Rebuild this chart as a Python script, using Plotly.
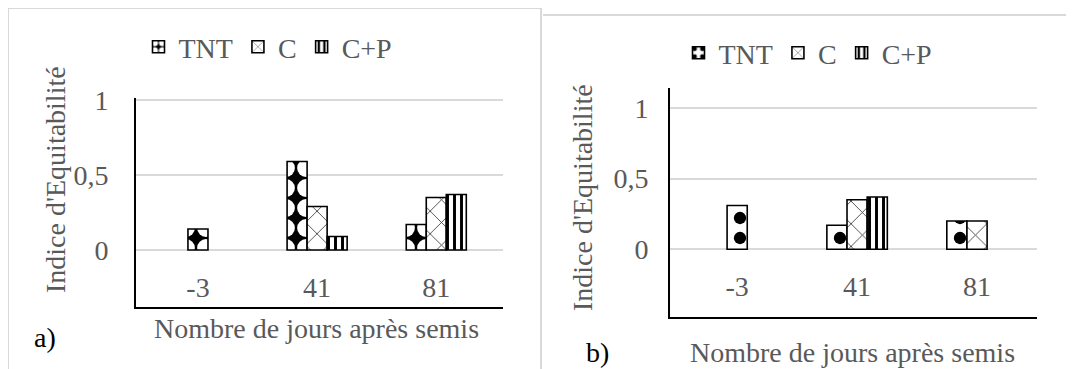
import plotly.graph_objects as go

# ---------------- data ----------------
categories = ["-3", "41", "81"]
series_names = ["TNT", "C", "C+P"]

a_TNT = [0.14, 0.59, 0.17]
a_C = [None, 0.29, 0.35]
a_CP = [None, 0.09, 0.37]

b_TNT = [0.31, 0.17, 0.20]
b_C = [None, 0.35, 0.20]
b_CP = [None, 0.37, 0.0]

y_ticks = [0, 0.5, 1]

# ---------------- style ----------------
PAGE_OFF = 8            # browser body margin
W, H = 1074 - PAGE_OFF, 369 - PAGE_OFF
FONT = "Liberation Serif"
GREY = "#595959"
GRID = "#d9d9d9"
BAR_W = 0.168
FS = 28

patterns_a = {
    "TNT": dict(shape=".", fgcolor="white", bgcolor="black", size=20, solidity=0.62, fillmode="replace"),
    "C": dict(shape="x", fgcolor="#333333", bgcolor="white", size=16, solidity=0.1, fillmode="replace"),
    "C+P": dict(shape="|", fgcolor="black", bgcolor="white", size=7, solidity=0.42, fillmode="replace"),
}
patterns_b = dict(patterns_a)
patterns_b["TNT"] = dict(shape=".", fgcolor="black", bgcolor="white", size=20, solidity=0.3, fillmode="replace")


def offsets_for(series_list):
    """Centre the bars that are present (non-null) in each category."""
    offs = [[0.0] * len(categories) for _ in series_list]
    for ci in range(len(categories)):
        present = [si for si, s in enumerate(series_list) if s[ci] is not None]
        n = len(present)
        for k, si in enumerate(present):
            offs[si][ci] = (k - n / 2) * BAR_W
    return offs


def px_x(p):
    return (p - PAGE_OFF) / W


def px_y(p):
    return 1 - (p - PAGE_OFF) / H


fig = go.Figure()

panels = [
    dict(series=[a_TNT, a_C, a_CP], xa="x", ya="y", legend="legend", pat=patterns_a),
    dict(series=[b_TNT, b_C, b_CP], xa="x2", ya="y2", legend="legend2", pat=patterns_b),
]

for p in panels:
    offs = offsets_for(p["series"])
    for name, vals, off in zip(series_names, p["series"], offs):
        lw = [0 if (v is not None and v == 0) else 1.6 for v in vals]
        fig.add_trace(go.Bar(
            x=categories, y=vals, name=name,
            xaxis=p["xa"], yaxis=p["ya"], legend=p["legend"],
            offset=off, width=[BAR_W] * len(categories),
            marker=dict(color="white", pattern=p["pat"][name],
                        line=dict(color="black", width=lw)),
            showlegend=True,
        ))

axis_common_y = dict(
    tickvals=y_ticks, showgrid=True, gridcolor=GRID, gridwidth=1.5,
    zeroline=False, showline=True, linecolor="black", linewidth=2,
    tickfont=dict(family=FONT, size=FS, color=GREY), ticks="",
)
axis_common_x = dict(
    type="category", showgrid=False, zeroline=False, showline=True,
    linecolor="black", linewidth=2, ticks="", ticklabelposition="inside",
    tickfont=dict(family=FONT, size=FS, color=GREY),
)

fig.update_layout(
    width=W, height=H,
    margin=dict(l=0, r=0, t=0, b=0, autoexpand=False),
    paper_bgcolor="white", plot_bgcolor="white",
    barmode="overlay",
    separators=", ",
    font=dict(family=FONT, size=FS, color=GREY),
    xaxis=dict(domain=[px_x(136), px_x(503)], range=[-0.52, 2.56],
               anchor="y", ticklabelstandoff=7, **axis_common_x),
    yaxis=dict(domain=[px_y(307), px_y(98)], range=[-0.38, 1.013],
               anchor="x", ticklabelstandoff=20, **axis_common_y),
    xaxis2=dict(domain=[px_x(670), px_x(1037)], range=[-0.56, 2.5],
                anchor="y2", ticklabelstandoff=18, **axis_common_x),
    yaxis2=dict(domain=[px_y(317), px_y(88)], range=[-0.48, 1.142],
                anchor="x2", ticklabelstandoff=14, **axis_common_y),
    legend=dict(orientation="h", x=px_x(268), y=px_y(47), xanchor="center",
                yanchor="middle", font=dict(family=FONT, size=FS, color=GREY),
                bgcolor="rgba(0,0,0,0)", itemwidth=30, tracegroupgap=0),
    legend2=dict(orientation="h", x=px_x(808), y=px_y(53), xanchor="center",
                 yanchor="middle", font=dict(family=FONT, size=FS, color=GREY),
                 bgcolor="rgba(0,0,0,0)", itemwidth=30, tracegroupgap=0),
)

annotations = [
    dict(text="Indice d'Equitabilité", x=px_x(55), y=px_y(180), textangle=-90),
    dict(text="Indice d'Equitabilité", x=px_x(582), y=px_y(198), textangle=-90),
    dict(text="Nombre de jours après semis", x=px_x(316), y=px_y(328)),
    dict(text="Nombre de jours après semis", x=px_x(852), y=px_y(352)),
]
for a in annotations:
    fig.add_annotation(xref="paper", yref="paper", showarrow=False,
                       xanchor="center", yanchor="middle",
                       font=dict(family=FONT, size=FS, color=GREY), **a)

for lab, xx, yy in [("a)", 45, 337), ("b)", 597, 352)]:
    fig.add_annotation(text=lab, xref="paper", yref="paper", x=px_x(xx), y=px_y(yy),
                       showarrow=False, xanchor="center", yanchor="middle",
                       font=dict(family=FONT, size=FS, color="black"))

# panel frames
frame = dict(color=GRID, width=2)
fig.add_shape(type="line", xref="paper", yref="paper", x0=px_x(8), x1=px_x(541), y0=px_y(8), y1=px_y(8), line=frame)
fig.add_shape(type="line", xref="paper", yref="paper", x0=px_x(8), x1=px_x(8), y0=px_y(8), y1=0, line=frame)
fig.add_shape(type="line", xref="paper", yref="paper", x0=px_x(541), x1=px_x(541), y0=px_y(8), y1=0, line=frame)
fig.add_shape(type="line", xref="paper", yref="paper", x0=px_x(543), x1=1, y0=px_y(15), y1=px_y(15), line=frame)

fig.write_html("out.html")
